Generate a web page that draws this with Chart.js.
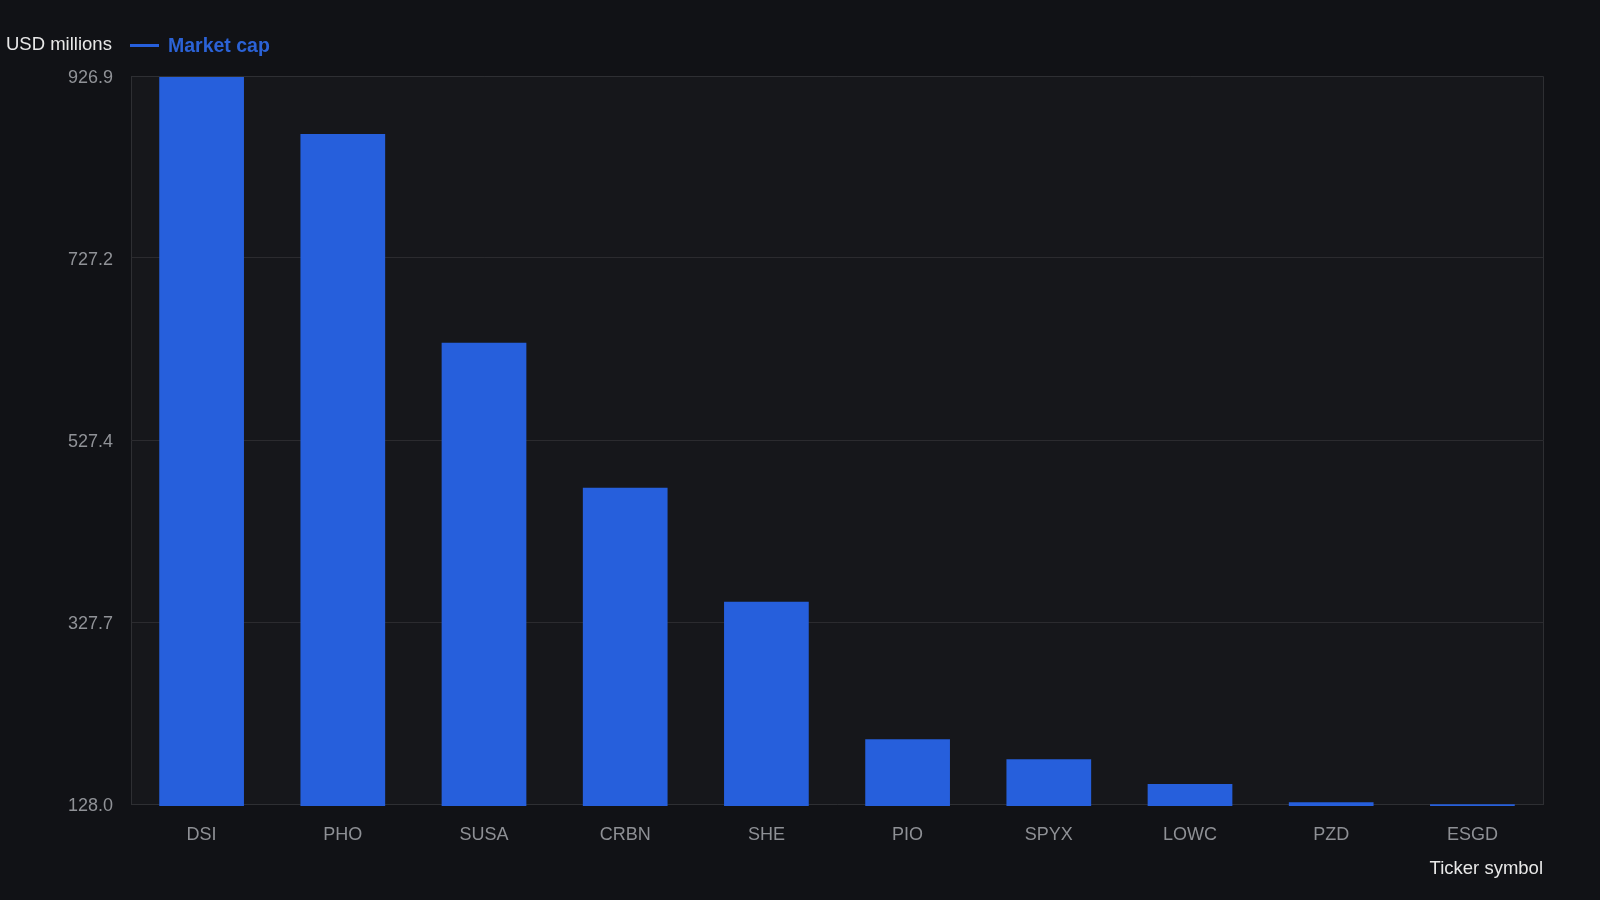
<!DOCTYPE html>
<html>
<head>
<meta charset="utf-8">
<title>Market cap by ticker</title>
<script src="https://cdn.jsdelivr.net/npm/chart.js@4/dist/chart.umd.min.js"></script>
<style>
  html, body { margin: 0; padding: 0; background: #111216; }
  #wrap { width: 1600px; height: 900px; position: relative; }
</style>
</head>
<body>
<div id="wrap"><canvas id="chart"></canvas></div>
<script>
  // --- data ---
  const tickers = ['DSI', 'PHO', 'SUSA', 'CRBN', 'SHE', 'PIO', 'SPYX', 'LOWC', 'PZD', 'ESGD'];
  const marketCap = [926.9, 863.3, 634.2, 475.0, 350.0, 199.0, 177.1, 150.0, 130.0, 127.6];
  const yTicks = [128.0, 327.7, 527.4, 727.2, 926.9];

  const seriesLabel = 'Market cap';
  const yTitle = 'USD millions';
  const xTitle = 'Ticker symbol';

  const barColor = '#265fdc';
  const font = '"Liberation Sans", Arial, Helvetica, sans-serif';

  // plot background + top-left title and legend
  const decor = {
    id: 'decor',
    beforeDraw(chart) {
      const { ctx, chartArea: a } = chart;
      ctx.save();
      ctx.fillStyle = '#16171b';
      ctx.fillRect(a.left, a.top, a.right - a.left, a.bottom - a.top);
      ctx.restore();
    },
    afterDraw(chart) {
      const { ctx } = chart;
      ctx.save();
      ctx.textBaseline = 'middle';
      ctx.fillStyle = '#e8e8e8';
      ctx.font = '18.5px ' + font;
      ctx.fillText(yTitle, 6, 45);

      ctx.strokeStyle = barColor;
      ctx.lineWidth = 3;
      ctx.beginPath();
      ctx.moveTo(130, 45.5);
      ctx.lineTo(159, 45.5);
      ctx.stroke();

      ctx.fillStyle = '#2b62d6';
      ctx.font = 'bold 19.5px ' + font;
      ctx.fillText(chart.data.datasets[0].label, 168, 47);
      ctx.restore();
    }
  };

  new Chart(document.getElementById('chart'), {
    type: 'bar',
    data: {
      labels: tickers,
      datasets: [{
        label: seriesLabel,
        data: marketCap,
        backgroundColor: barColor,
        borderWidth: 0,
        clip: { left: 0, top: 0, right: 0, bottom: 2 },
        categoryPercentage: 0.8,
        barPercentage: 0.75
      }]
    },
    options: {
      responsive: true,
      maintainAspectRatio: false,
      animation: false,
      layout: { padding: { top: 76, right: 57, bottom: 0, left: 0 } },
      plugins: {
        legend: { display: false },
        tooltip: { enabled: false }
      },
      scales: {
        x: {
          grid: { display: false, drawTicks: false },
          border: { display: true, color: '#2e2f33', width: 1 },
          ticks: { color: '#8e9095', font: { family: font, size: 18 }, padding: 20 },
          title: {
            display: true,
            text: xTitle,
            align: 'end',
            color: '#e8e8e8',
            font: { family: font, size: 18.5 },
            padding: { top: 0, bottom: 20 }
          },
          afterFit(scale) { scale.height = 96; }
        },
        y: {
          min: yTicks[0],
          max: yTicks[yTicks.length - 1],
          afterBuildTicks(scale) { scale.ticks = yTicks.map(v => ({ value: v })); },
          grid: { color: 'rgba(255,255,255,0.09)', drawTicks: false },
          border: { display: true, color: '#2e2f33', width: 1 },
          ticks: {
            color: '#909297',
            font: { family: font, size: 18 },
            padding: 18,
            labelOffset: 2,
            callback: v => Number(v).toFixed(1)
          },
          afterFit(scale) { scale.width = 131; }
        }
      }
    },
    plugins: [decor, {
      id: 'frame',
      afterDatasetsDraw(chart) {
        const { ctx, chartArea: a } = chart;
        ctx.save();
        ctx.strokeStyle = '#2e2f33';
        ctx.lineWidth = 1;
        ctx.beginPath();
        ctx.moveTo(a.left, a.top + 0.5);
        ctx.lineTo(a.right + 0.5, a.top + 0.5);
        ctx.lineTo(a.right + 0.5, a.bottom);
        ctx.stroke();
        ctx.restore();
      }
    }]
  });
</script>
</body>
</html>
